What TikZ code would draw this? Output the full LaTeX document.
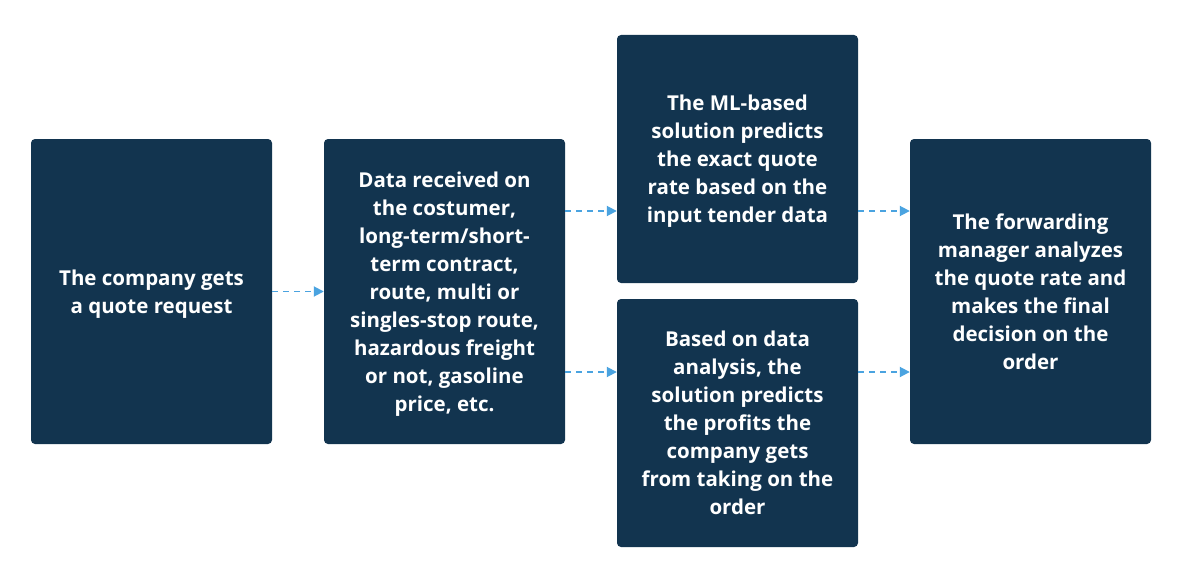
\documentclass[tikz,border=0pt]{standalone}
\usepackage{fontspec}
\setmainfont{Open Sans}
\usetikzlibrary{arrows.meta}
\definecolor{boxnavy}{HTML}{12344F}
\definecolor{flowblue}{HTML}{4AA3E0}

\begin{document}
\begin{tikzpicture}[x=1pt,y=-1pt,font=\fontsize{20.5}{28}\selectfont\bfseries,
  stage/.style={fill=boxnavy,text=white,rounded corners=4pt,minimum width=241pt,inner sep=0pt,align=center,text depth=0pt},
  flow/.style={draw=flowblue,line width=1.8pt,dash pattern=on 6pt off 5pt,-{Triangle[length=10pt,width=10pt]}}]
\useasboundingbox (0,0) rectangle (1182,583);
\node[stage,minimum height=305pt] (request) at (151.5,291.5) {The company gets\\a quote request};
\node[stage,minimum height=305pt] (data) at (444.5,291.5) {Data received on\\the costumer,\\long-term/short-\\term contract,\\route, multi or\\singles-stop route,\\hazardous freight\\or not, gasoline\\price, etc.};
\node[stage,minimum height=248pt] (predict) at (737.5,159) {The ML-based\\solution predicts\\the exact quote\\rate based on the\\input tender data};
\node[stage,minimum height=248pt] (profit) at (737.5,423) {Based on data\\analysis, the\\solution predicts\\the profits the\\company gets\\from taking on the\\order};
\node[stage,minimum height=305pt] (manager) at (1030.5,291.5) {The forwarding\\manager analyzes\\the quote rate and\\makes the final\\decision on the\\order};
\coordinate (upper) at (0,211);
\coordinate (lower) at (0,372);
\draw[flow] (request) -- (data);
\draw[flow] (data.east |- upper) -- (predict.west |- upper);
\draw[flow] (data.east |- lower) -- (profit.west |- lower);
\draw[flow] (predict.east |- upper) -- (manager.west |- upper);
\draw[flow] (profit.east |- lower) -- (manager.west |- lower);
\end{tikzpicture}
\end{document}
